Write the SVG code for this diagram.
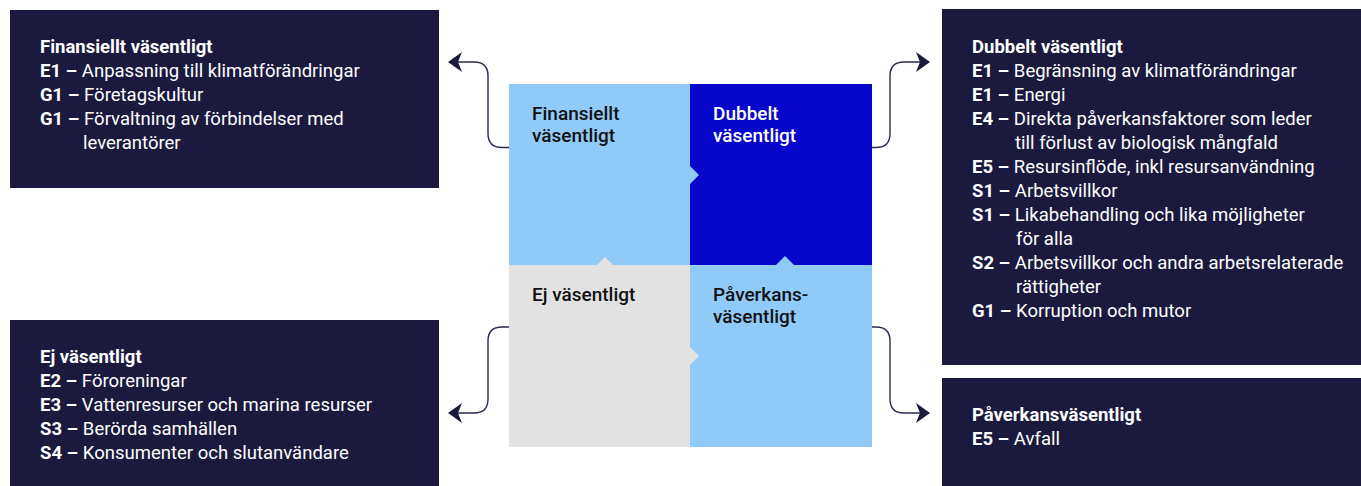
<svg xmlns="http://www.w3.org/2000/svg" width="1361" height="486" viewBox="0 0 1361 486">
<style>
.box{fill:#1B1A3E}
.bt{font-family:Roboto,"Liberation Sans",sans-serif;font-size:18.5px;fill:#FFFFFF}
.h{font-weight:700}
.b{font-weight:700}
.qt{font-family:Roboto,"Liberation Sans",sans-serif;font-size:19px;font-weight:500}
.conn{fill:none;stroke:#2A2950;stroke-width:1.4}
</style>
<defs>
<marker id="arr" viewBox="0 -10 14 20" refX="13" refY="0" markerWidth="14" markerHeight="20" markerUnits="userSpaceOnUse" orient="auto">
<path d="M14,0 L0,-10 L4,0 L0,10 Z" fill="#1B1A3E"/>
</marker>
</defs>
<rect width="1361" height="486" fill="#FFFFFF"/>

<g id="matrix">
<g id="q-finansiellt">
<rect x="509" y="84" width="181" height="181" fill="#90CAF9"/>
<polygon points="690,166 699,175 690,184" fill="#90CAF9"/>
<text class="qt" fill="#111111"><tspan x="532" y="120">Finansiellt</tspan><tspan x="532" y="142">väsentligt</tspan></text>
</g>
<g id="q-dubbelt">
<rect x="690" y="84" width="182" height="181" fill="#0707CC"/>
<polygon points="690,166 699,175 690,184" fill="#90CAF9"/>
<text class="qt" fill="#FFFFFF"><tspan x="713" y="120">Dubbelt</tspan><tspan x="713" y="142">väsentligt</tspan></text>
</g>
<g id="q-ej">
<rect x="509" y="265" width="181" height="182" fill="#E2E2E2"/>
<polygon points="597,265 605,257 613,265" fill="#E2E2E2"/>
<text class="qt" fill="#111111"><tspan x="532" y="301">Ej väsentligt</tspan></text>
</g>
<g id="q-paverkans">
<rect x="690" y="265" width="182" height="182" fill="#90CAF9"/>
<polygon points="776,265 785,256 794,265" fill="#90CAF9"/>
<polygon points="690,347 699,356 690,365" fill="#E2E2E2"/>
<text class="qt" fill="#111111"><tspan x="713" y="301">Påverkans-</tspan><tspan x="713" y="323">väsentligt</tspan></text>
</g>
</g>

<g id="connectors">
<path class="conn" d="M509,147.5 H502 Q488,147.5 488,133.5 V76 Q488,62 474,62 H449" marker-end="url(#arr)"/>
<path class="conn" d="M872,147.5 H876 Q890,147.5 890,133.5 V76 Q890,62 904,62 H929" marker-end="url(#arr)"/>
<path class="conn" d="M509,327 H502 Q488,327 488,341 V399 Q488,413 474,413 H449" marker-end="url(#arr)"/>
<path class="conn" d="M872,327 H876 Q890,327 890,341 V399 Q890,413 904,413 H929" marker-end="url(#arr)"/>
</g>

<g id="box-finansiellt">
<rect class="box" x="10" y="10" width="429" height="178"/>
<text class="bt"><tspan class="h" x="40" y="53">Finansiellt väsentligt</tspan></text>
<text class="bt" x="40" y="77"><tspan class="b">E1 –</tspan> Anpassning till klimatförändringar</text>
<text class="bt" x="40" y="101"><tspan class="b">G1 –</tspan> Företagskultur</text>
<text class="bt" x="40" y="125"><tspan class="b">G1 –</tspan> Förvaltning av förbindelser med</text>
<text class="bt" x="83" y="149">leverantörer</text>
</g>

<g id="box-dubbelt">
<rect class="box" x="942" y="9" width="419" height="356"/>
<text class="bt"><tspan class="h" x="972" y="53">Dubbelt väsentligt</tspan></text>
<text class="bt" x="972" y="77"><tspan class="b">E1 –</tspan> Begränsning av klimatförändringar</text>
<text class="bt" x="972" y="101"><tspan class="b">E1 –</tspan> Energi</text>
<text class="bt" x="972" y="125"><tspan class="b">E4 –</tspan> Direkta påverkansfaktorer som leder</text>
<text class="bt" x="1015" y="149">till förlust av biologisk mångfald</text>
<text class="bt" x="972" y="173"><tspan class="b">E5 –</tspan> Resursinflöde, inkl resursanvändning</text>
<text class="bt" x="972" y="197"><tspan class="b">S1 –</tspan> Arbetsvillkor</text>
<text class="bt" x="972" y="221"><tspan class="b">S1 –</tspan> Likabehandling och lika möjligheter</text>
<text class="bt" x="1016" y="245">för alla</text>
<text class="bt" x="972" y="269"><tspan class="b">S2 –</tspan> Arbetsvillkor och andra arbetsrelaterade</text>
<text class="bt" x="1016" y="293">rättigheter</text>
<text class="bt" x="972" y="317"><tspan class="b">G1 –</tspan> Korruption och mutor</text>
</g>

<g id="box-ej">
<rect class="box" x="10" y="320" width="429" height="166"/>
<text class="bt"><tspan class="h" x="40" y="363">Ej väsentligt</tspan></text>
<text class="bt" x="40" y="387"><tspan class="b">E2 –</tspan> Föroreningar</text>
<text class="bt" x="40" y="411"><tspan class="b">E3 –</tspan> Vattenresurser och marina resurser</text>
<text class="bt" x="40" y="435"><tspan class="b">S3 –</tspan> Berörda samhällen</text>
<text class="bt" x="40" y="459"><tspan class="b">S4 –</tspan> Konsumenter och slutanvändare</text>
</g>

<g id="box-paverkans">
<rect class="box" x="942" y="378" width="419" height="108"/>
<text class="bt"><tspan class="h" x="972" y="421">Påverkansväsentligt</tspan></text>
<text class="bt" x="972" y="445"><tspan class="b">E5 –</tspan> Avfall</text>
</g>
</svg>
